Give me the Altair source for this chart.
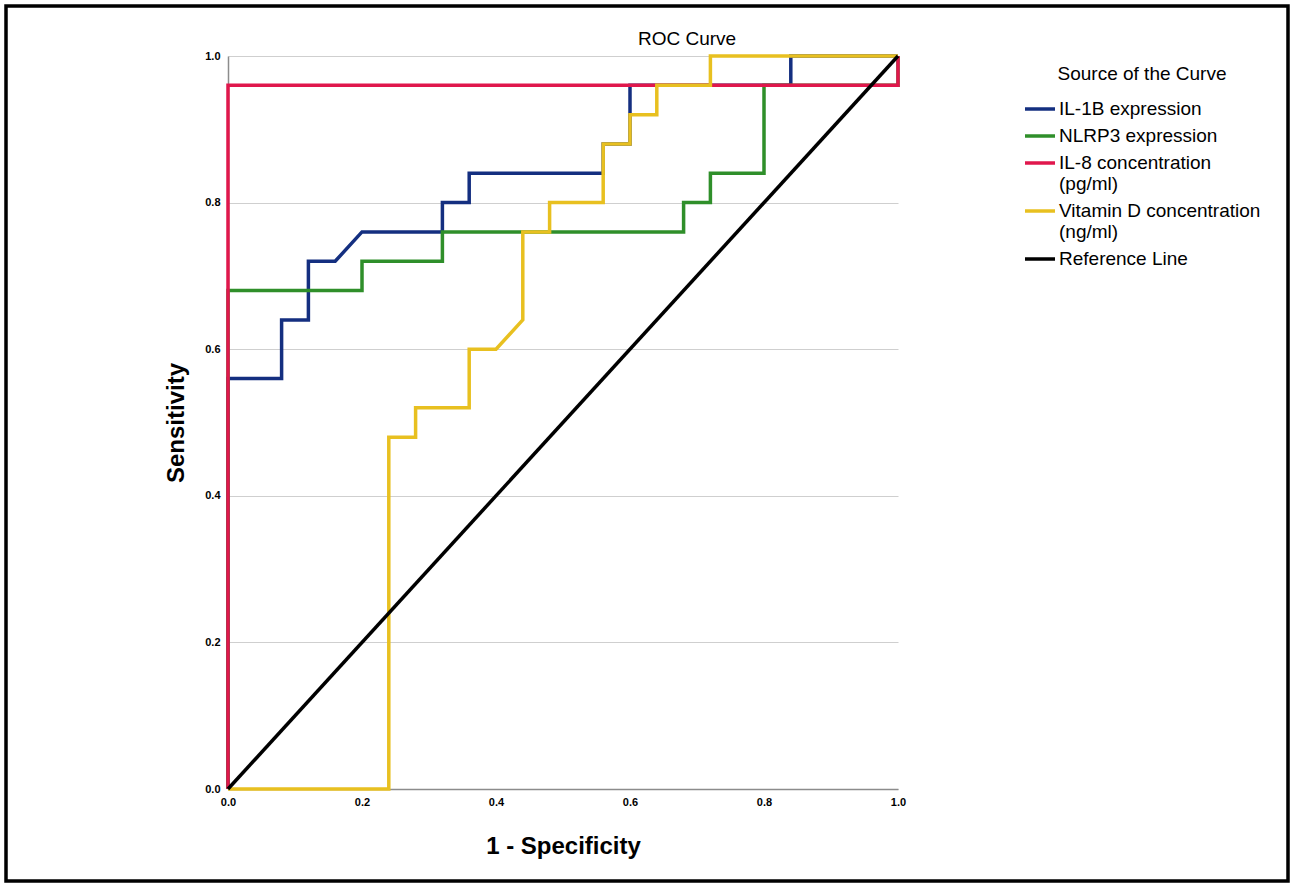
import altair as alt
import pandas as pd

# ---- data ----
series_names = ["IL-1B expression", "NLRP3 expression", "IL-8 concentration|(pg/ml)",
                "Vitamin D concentration|(ng/ml)", "Reference Line"]
series_colors = ["#142f80", "#2f8f2a", "#e0174c", "#e8c020", "#000000"]

il1b_x = [0, 0, 0.08, 0.08, 0.12, 0.12, 0.16, 0.20, 0.32, 0.32, 0.36, 0.36, 0.56, 0.56, 0.60, 0.60, 0.84, 0.84, 1.0]
il1b_y = [0, 0.56, 0.56, 0.64, 0.64, 0.72, 0.72, 0.76, 0.76, 0.80, 0.80, 0.84, 0.84, 0.88, 0.88, 0.96, 0.96, 1.0, 1.0]

nlrp3_x = [0, 0, 0.20, 0.20, 0.32, 0.32, 0.68, 0.68, 0.72, 0.72, 0.80, 0.80, 1.0, 1.0]
nlrp3_y = [0, 0.68, 0.68, 0.72, 0.72, 0.76, 0.76, 0.80, 0.80, 0.84, 0.84, 0.96, 0.96, 1.0]

il8_x = [0, 0, 1.0, 1.0]
il8_y = [0, 0.96, 0.96, 1.0]

vitd_x = [0, 0.24, 0.24, 0.28, 0.28, 0.36, 0.36, 0.40, 0.44, 0.44, 0.48, 0.48, 0.56, 0.56, 0.60, 0.60, 0.64, 0.64, 0.72, 0.72, 1.0]
vitd_y = [0, 0, 0.48, 0.48, 0.52, 0.52, 0.60, 0.60, 0.64, 0.76, 0.76, 0.80, 0.80, 0.88, 0.88, 0.92, 0.92, 0.96, 0.96, 1.0, 1.0]

ref_x = [0, 1.0]
ref_y = [0, 1.0]

tick_values = [0.0, 0.2, 0.4, 0.6, 0.8, 1.0]
chart_title = ["ROC Curve"]

all_x = [il1b_x, nlrp3_x, il8_x, vitd_x, ref_x]
all_y = [il1b_y, nlrp3_y, il8_y, vitd_y, ref_y]

rows = []
for name, xs, ys in zip(series_names, all_x, all_y):
    for i, (xv, yv) in enumerate(zip(xs, ys)):
        rows.append({"series": name, "fpr": xv, "tpr": yv, "idx": i})
df = pd.DataFrame(rows)

FONT = "Liberation Sans"

color_enc = alt.Color(
    "series:N",
    scale=alt.Scale(domain=series_names, range=series_colors),
    sort=series_names,
    legend=alt.Legend(
        title="Source of the Curve",
        orient="none",
        legendX=795,
        legendY=9,
        symbolType="stroke",
        symbolSize=900,
        symbolStrokeWidth=3.5,
        labelExpr="split(datum.label, '|')",
        labelLimit=400,
        labelFont=FONT,
        labelFontSize=19,
        labelColor="#000",
        labelOffset=2,
        titleFont=FONT,
        titleFontSize=19,
        titleFontWeight="normal",
        titleColor="#000",
        titleAnchor="middle",
        titlePadding=8,
        rowPadding=-2,
    ),
)

x_enc = alt.X("fpr:Q", scale=alt.Scale(domain=[0, 1], nice=False),
              axis=alt.Axis(title="1 - Specificity", values=tick_values, format=".1f",
                            grid=False, ticks=False, tickSize=0, labelPadding=7,
                            labelFlush=False, titlePadding=27))
y_enc = alt.Y("tpr:Q", scale=alt.Scale(domain=[0, 1], nice=False),
              axis=alt.Axis(title="Sensitivity", values=tick_values, format=".1f",
                            grid=True, ticks=False, tickSize=0, labelPadding=8,
                            labelFlush=False, titlePadding=16))

layers = []
for name in series_names:
    layer = alt.Chart(df).transform_filter(
        alt.datum.series == name
    ).mark_line(strokeWidth=3.5, strokeJoin="miter").encode(
        x=x_enc, y=y_enc, color=color_enc, order="idx:Q"
    )
    layers.append(layer)

title_text = alt.Chart(pd.DataFrame({"t": chart_title})).mark_text(
    font=FONT, fontSize=19, color="#000", align="center", baseline="alphabetic"
).encode(
    text="t:N", x=alt.value(459), y=alt.value(-11)
)

frame = alt.Chart(pd.DataFrame({"a": [0]})).mark_rect(
    fillOpacity=0, stroke="#000", strokeWidth=3.5
).encode(
    x=alt.value(-222), x2=alt.value(1060), y=alt.value(-50), y2=alt.value(825)
)

chart = alt.layer(*layers, title_text, frame).properties(
    width=670,
    height=733,
    padding={"left": 228, "top": 56, "right": 392, "bottom": 94},
    autosize=alt.AutoSizeParams(type="none"),
    background="white",
).configure_view(
    stroke=None
).configure_axis(
    labelFont=FONT,
    labelFontSize=11,
    labelFontWeight="bold",
    labelColor="#000",
    titleFont=FONT,
    titleFontSize=24,
    titleFontWeight="bold",
    titleColor="#000",
    domainColor="#8c8c8c",
    domainWidth=1.5,
    gridColor="#cfcfcf",
    gridWidth=1.2,
)

chart.save("out.html", embed_options={"renderer": "svg", "actions": False})
